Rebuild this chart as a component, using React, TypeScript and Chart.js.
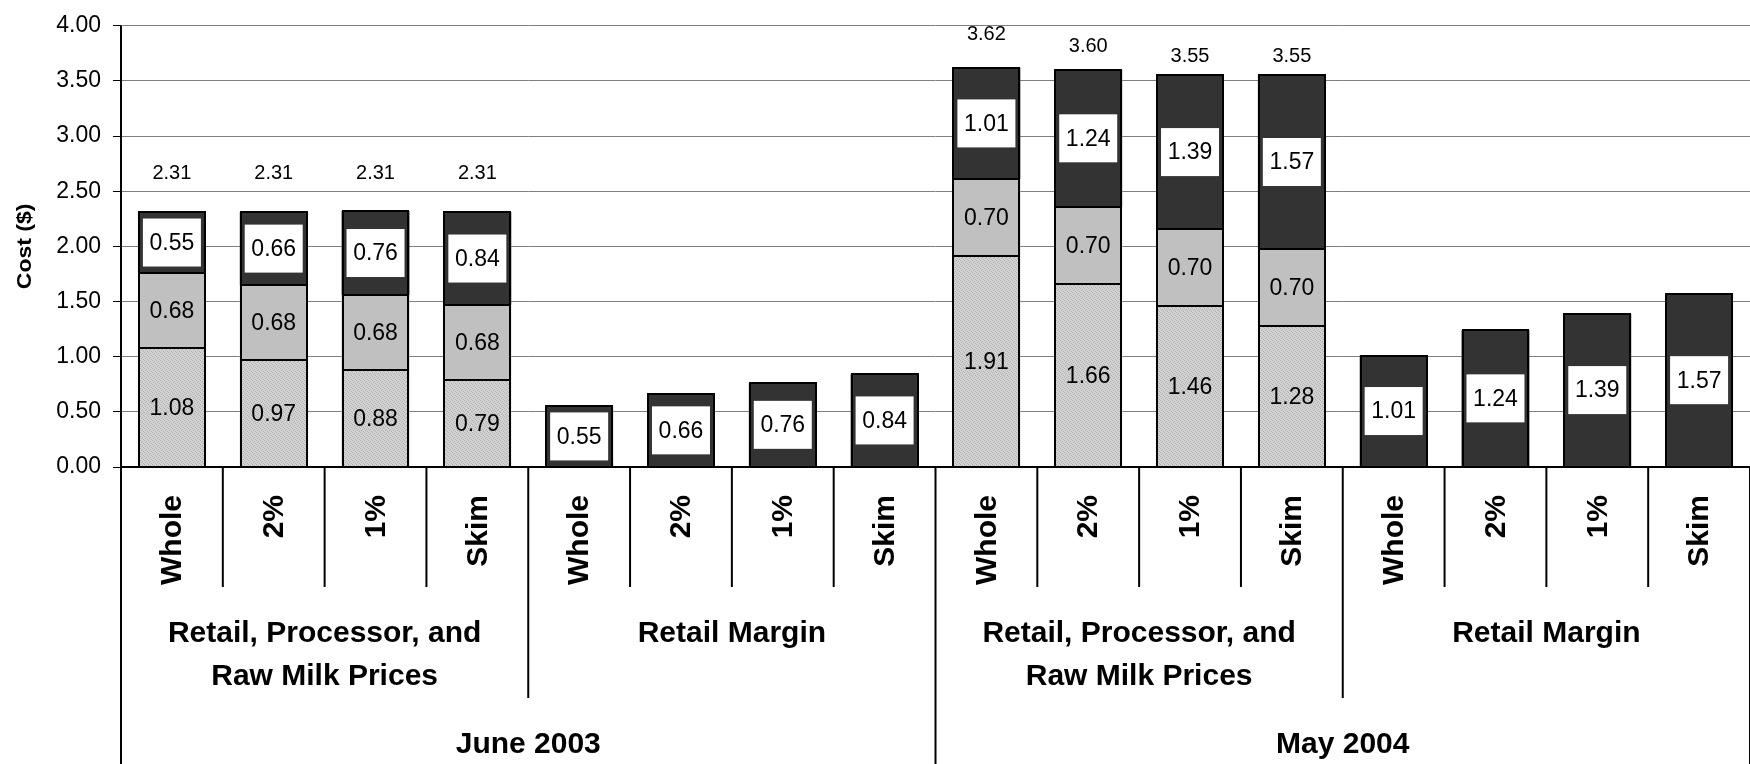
import React, { useEffect, useRef } from "react";
import { Chart, registerables } from "chart.js";

Chart.register(...registerables);

// ---------------- data ----------------
const categories = [
  "Whole", "2%", "1%", "Skim",
  "Whole", "2%", "1%", "Skim",
  "Whole", "2%", "1%", "Skim",
  "Whole", "2%", "1%", "Skim",
];
const groupLabels: string[][] = [
  ["Retail, Processor, and", "Raw Milk Prices"],
  ["Retail Margin"],
  ["Retail, Processor, and", "Raw Milk Prices"],
  ["Retail Margin"],
];
const periodLabels = ["June 2003", "May 2004"];

const rawMilk = [1.08, 0.97, 0.88, 0.79, null, null, null, null, 1.91, 1.66, 1.46, 1.28, null, null, null, null];
const processor = [0.68, 0.68, 0.68, 0.68, null, null, null, null, 0.7, 0.7, 0.7, 0.7, null, null, null, null];
const retailMargin = [0.55, 0.66, 0.76, 0.84, 0.55, 0.66, 0.76, 0.84, 1.01, 1.24, 1.39, 1.57, 1.01, 1.24, 1.39, 1.57];
const totals = [2.31, 2.31, 2.31, 2.31, null, null, null, null, 3.62, 3.6, 3.55, 3.55, null, null, null, null];

const yMin = 0;
const yMax = 4;
const yStep = 0.5;

// ---------------- styles ----------------
const FONT = '"Liberation Sans", Arial, Helvetica, sans-serif';
const totalLabelOffsetPx = [39, 39, 39, 39, 0, 0, 0, 0, 33, 23, 19, 19, 0, 0, 0, 0];

function makePattern(): CanvasPattern | string {
  const pc = document.createElement("canvas");
  pc.width = 4;
  pc.height = 4;
  const p = pc.getContext("2d");
  if (!p) return "#c8c8c8";
  p.fillStyle = "#d2d2d2";
  p.fillRect(0, 0, 4, 4);
  p.fillStyle = "#b0b0b0";
  p.fillRect(0, 0, 1, 1);
  p.fillRect(2, 1, 1, 1);
  p.fillRect(1, 2, 1, 1);
  p.fillRect(3, 3, 1, 1);
  const pat = p.createPattern(pc, "repeat");
  return pat || "#c8c8c8";
}

const customPlugin = {
  id: "customDraw",
  afterDatasetsDraw(chart: any) {
    const ctx: CanvasRenderingContext2D = chart.ctx;
    const xs = chart.scales.x;
    const ys = chart.scales.y;
    const { left, right, top, bottom } = chart.chartArea;
    const n = categories.length;
    const cw = (right - left) / n;
    const H = chart.height;

    ctx.save();
    // ----- segment outlines -----
    ctx.strokeStyle = "#000";
    ctx.lineWidth = 2;
    chart.data.datasets.forEach((ds: any, di: number) => {
      const meta = chart.getDatasetMeta(di);
      meta.data.forEach((el: any, i: number) => {
        if (ds.data[i] == null) return;
        const p = el.getProps(["x", "y", "base", "width"], true);
        const x0 = Math.round(p.x - p.width / 2) + 1;
        const x1 = Math.round(p.x + p.width / 2) - 1;
        const y0 = Math.round(p.y);
        const y1 = Math.round(p.base);
        ctx.strokeRect(x0, y0, x1 - x0, y1 - y0);
      });
    });

    // ----- data labels -----
    chart.data.datasets.forEach((ds: any, di: number) => {
      const meta = chart.getDatasetMeta(di);
      meta.data.forEach((el: any, i: number) => {
        const v = ds.data[i];
        if (v == null) return;
        const props = el.getProps(["x", "y", "base"], true);
        const cx = props.x;
        const cy = (props.y + props.base) / 2;
        const txt = Number(v).toFixed(2);
        ctx.font = `23px ${FONT}`;
        if (di === 2) {
          ctx.fillStyle = "#ffffff";
          ctx.fillRect(cx - 29, cy - 24, 58, 48);
        }
        ctx.fillStyle = "#000000";
        ctx.textAlign = "center";
        ctx.textBaseline = "middle";
        ctx.fillText(txt, cx, cy + 1);
      });
    });

    // ----- totals -----
    ctx.font = `20px ${FONT}`;
    ctx.fillStyle = "#000";
    ctx.textAlign = "center";
    ctx.textBaseline = "middle";
    totals.forEach((t, i) => {
      if (t == null) return;
      const cx = xs.getPixelForValue(i);
      const ty = ys.getPixelForValue(t) - totalLabelOffsetPx[i];
      ctx.fillText(t.toFixed(2), cx, ty);
    });

    // ----- axis lines -----
    ctx.strokeStyle = "#000";
    ctx.lineWidth = 2;
    ctx.beginPath();
    ctx.moveTo(left, bottom);
    ctx.lineTo(right, bottom);
    ctx.stroke();
    ctx.beginPath();
    ctx.moveTo(left, top);
    ctx.lineTo(left, bottom);
    ctx.stroke();

    // ----- category separators -----
    for (let b = 0; b <= n; b++) {
      const bx = left + b * cw;
      let y2 = 587;
      if (b % 8 === 0) y2 = H;
      else if (b % 4 === 0) y2 = 698;
      ctx.beginPath();
      ctx.moveTo(bx, bottom);
      ctx.lineTo(bx, y2);
      ctx.stroke();
    }

    // ----- level 1 labels (rotated) -----
    ctx.font = `bold 30px ${FONT}`;
    ctx.fillStyle = "#000";
    categories.forEach((c, i) => {
      const cx = xs.getPixelForValue(i);
      ctx.save();
      ctx.translate(cx + 1, 495);
      ctx.rotate(-Math.PI / 2);
      ctx.textAlign = "right";
      ctx.textBaseline = "middle";
      ctx.fillText(c, 0, 0);
      ctx.restore();
    });

    // ----- level 2 labels -----
    ctx.textAlign = "center";
    ctx.textBaseline = "middle";
    groupLabels.forEach((lines, g) => {
      const cx = left + (g * 4 + 2) * cw;
      lines.forEach((ln, k) => {
        ctx.fillText(ln, cx, 634 + k * 43);
      });
    });

    // ----- level 3 labels -----
    periodLabels.forEach((p, g) => {
      const cx = left + (g * 8 + 4) * cw;
      ctx.fillText(p, cx, 745);
    });

    // ----- y title -----
    ctx.save();
    ctx.translate(25, (top + bottom) / 2);
    ctx.rotate(-Math.PI / 2);
    ctx.scale(1.15, 1);
    ctx.font = `bold 20px ${FONT}`;
    ctx.textAlign = "center";
    ctx.textBaseline = "middle";
    ctx.fillText("Cost ($)", 0, 0);
    ctx.restore();

    ctx.restore();
  },
};

export default function App() {
  const ref = useRef<HTMLCanvasElement | null>(null);

  useEffect(() => {
    const canvas = ref.current;
    if (!canvas) return;
    const pattern = makePattern();
    const common = {
      borderWidth: 0,
      barPercentage: 0.667,
      categoryPercentage: 1.0,
    };
    const chart = new Chart(canvas, {
      type: "bar",
      data: {
        labels: categories,
        datasets: [
          { label: "Raw Milk", data: rawMilk as any, backgroundColor: pattern as any, ...common },
          { label: "Processor", data: processor as any, backgroundColor: "#c0c0c0", ...common },
          { label: "Retail Margin", data: retailMargin as any, backgroundColor: "#333333", ...common },
        ],
      },
      options: {
        animation: false,
        responsive: false,
        devicePixelRatio: 1,
        layout: { padding: { top: 22, left: 0, right: 0, bottom: 0 } },
        plugins: {
          legend: { display: false },
          tooltip: { enabled: false },
          title: { display: false },
        },
        scales: {
          x: {
            stacked: true,
            ticks: { display: false },
            grid: { display: false },
            border: { display: false },
            afterFit: (s: any) => {
              s.height = 297;
            },
          },
          y: {
            stacked: true,
            min: yMin,
            max: yMax,
            ticks: {
              stepSize: yStep,
              padding: 12,
              color: "#000",
              font: { family: FONT, size: 23 },
              callback: (v: any) => Number(v).toFixed(2),
            },
            grid: {
              color: "#808080",
              lineWidth: 1,
              drawTicks: true,
              tickLength: 8,
              tickColor: "#000",
            },
            border: { display: false },
            afterFit: (s: any) => {
              s.width = 121;
            },
          },
        },
      },
      plugins: [customPlugin],
    });
    return () => chart.destroy();
  }, []);

  return (
    <div style={{ position: "fixed", left: 0, top: 0, width: 1750, height: 764, background: "#fff", overflow: "hidden" }}>
      <canvas ref={ref} width={1750} height={764} style={{ display: "block" }} />
    </div>
  );
}
